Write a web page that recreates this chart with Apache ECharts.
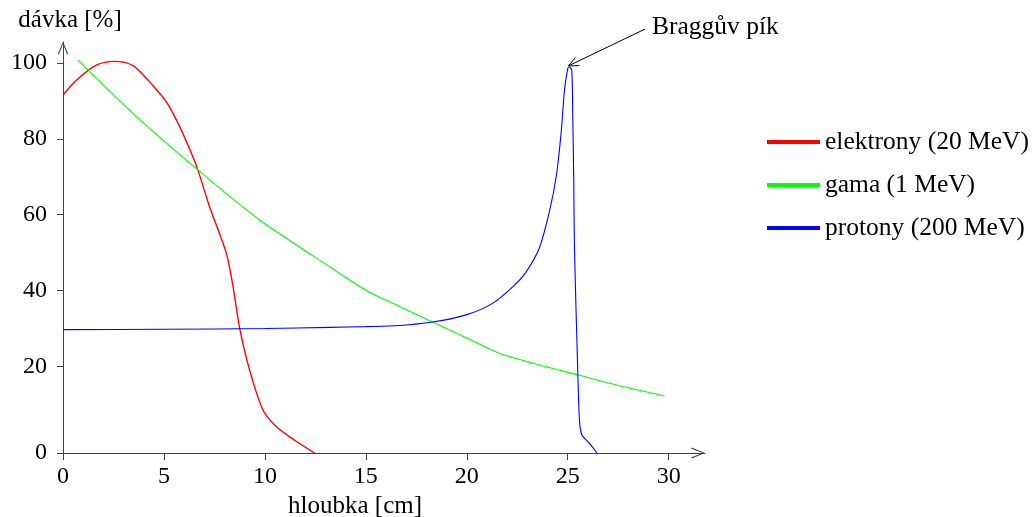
<!DOCTYPE html>
<html>
<head>
<meta charset="utf-8">
<script src="https://cdn.jsdelivr.net/npm/echarts@6/dist/echarts.min.js"></script>
<style>html,body{margin:0;padding:0;background:#fff}#c{width:1032px;height:517px}</style>
</head>
<body>
<div id="c"></div>
<script>
// ---- data (depth in cm, dose in %) ----
const seriesNames = ['elektrony (20 MeV)', 'gama (1 MeV)', 'protony (200 MeV)'];
const electronDepth = [0, 0.66, 1.65, 2.56, 3.47, 4.13, 4.29, 5.12, 5.78, 6.36, 6.68, 7.26, 8.09, 8.42, 8.75, 9.24, 9.90, 10.56, 11.55, 12.46];
const electronDose  = [91.5, 95.4, 99.4, 100.4, 99.3, 95.9, 95.0, 89.7, 83.2, 76.2, 71.8, 62.1, 49.8, 41.1, 30.1, 19.1, 8.6, 4.2, 0.3, -2.8];
const gammaDepth = [0.74, 3.5, 6.68, 9.74, 13.2, 15.0, 16.67, 18.3, 20.0, 21.6, 23.6, 25.5, 27.5, 29.8];
const gammaDose  = [100.7, 86.5, 71.8, 58.6, 46.3, 40.1, 35.8, 31.7, 27.5, 23.5, 20.4, 17.8, 15.0, 12.2];
const protonDepth = [0, 5, 10, 13.2, 15, 16.67, 18.3, 19.97, 21.3, 22.3, 22.9, 23.6, 24.1, 24.43, 24.67, 24.84, 25.0, 25.08, 25.2, 25.25, 25.3, 25.33, 25.5, 25.58, 25.7, 26.07, 26.45];
const protonDose  = [29.7, 29.8, 30.0, 30.3, 30.5, 30.8, 31.7, 33.6, 36.7, 41.1, 44.6, 51.3, 61.0, 70.0, 81.4, 92.8, 98.5, 98.9, 98.1, 85.8, 68.3, 52.0, 18.3, 6.0, 2.0, -0.2, -2.8];
const xTicks = [0, 5, 10, 15, 20, 25, 30];
const yTicks = [-2.8, 20, 40, 60, 80, 100];
const yTickLabels = ['0', '20', '40', '60', '80', '100'];
const xRange = [0, 31.8];
const yRange = [-2.8, 105.5];
const braggLabel = 'Braggův pík';
const braggTextAt = [28.83, 108.9];
const braggPeak = [25.03, 99.2];
const xName = 'hloubka [cm]';
const yName = 'dávka [%]';

const zip = (a, b) => a.map((v, i) => [v, b[i]]);
const FONT = 'Liberation Serif';
const chev = 'path://M5,0 L10,12 L9,12.6 L5,2.4 L1,12.6 L0,12 Z';

const chart = echarts.init(document.getElementById('c'), null, {renderer: 'canvas'});
chart.setOption({
  animation: false,
  backgroundColor: '#fff',
  textStyle: {fontFamily: FONT, color: '#000'},
  grid: {left: 63, right: 327, top: 42, bottom: 64, containLabel: false, outerBoundsMode: 'none'},
  legend: {
    left: 762, top: 124, orient: 'vertical', itemGap: 17,
    itemWidth: 53, itemHeight: 4, icon: 'rect',
    textStyle: {fontFamily: FONT, fontSize: 25.5, color: '#000'},
    data: seriesNames
  },
  xAxis: {
    type: 'value', min: xRange[0], max: xRange[1],
    name: xName, nameLocation: 'middle', nameGap: 36,
    nameTextStyle: {fontFamily: FONT, fontSize: 25, color: '#000', padding: [0, 58, 0, 0]},
    axisLine: {onZero: false, lineStyle: {color: '#444', width: 1},
      symbol: ['none', chev], symbolSize: [16, 14], symbolOffset: [0, -7]},
    axisTick: {show: true, length: 7, lineStyle: {color: '#444'}, customValues: xTicks},
    axisLabel: {fontFamily: FONT, fontSize: 24, color: '#000', margin: 12, customValues: xTicks},
    splitLine: {show: false}
  },
  yAxis: {
    type: 'value', min: yRange[0], max: yRange[1],
    name: yName, nameLocation: 'end', nameGap: 9,
    nameTextStyle: {fontFamily: FONT, fontSize: 25, color: '#000', padding: [0, 0, 0, 14]},
    axisLine: {onZero: false, lineStyle: {color: '#444', width: 1},
      symbol: ['none', chev], symbolSize: [11, 13], symbolOffset: [0, -6]},
    axisTick: {show: true, length: 6, lineStyle: {color: '#444'}, customValues: yTicks},
    axisLabel: {fontFamily: FONT, fontSize: 24, color: '#000', margin: 16, customValues: yTicks,
      formatter: v => yTickLabels[yTicks.indexOf(v)] ?? ''},
    splitLine: {show: false}
  },
  series: [
    {name: seriesNames[0], type: 'line', data: zip(electronDepth, electronDose), showSymbol: false,
     smooth: 0.3, lineStyle: {color: '#ff0000', width: 1.4}, itemStyle: {color: '#ff0000'}},
    {name: seriesNames[1], type: 'line', data: zip(gammaDepth, gammaDose), showSymbol: false,
     smooth: 0.2, lineStyle: {color: '#00ff00', width: 1.1}, itemStyle: {color: '#00ff00'}},
    {name: seriesNames[2], type: 'line', data: zip(protonDepth, protonDose), showSymbol: false,
     smooth: 0.25, lineStyle: {color: '#0000ff', width: 1.1}, itemStyle: {color: '#0000ff'}}
  ]
});

// Bragg peak annotation, placed through the chart's own coordinate conversion
const p0 = chart.convertToPixel({gridIndex: 0}, braggTextAt);
const p1 = chart.convertToPixel({gridIndex: 0}, braggPeak);
const ang = Math.atan2(p0[1] - p1[1], p0[0] - p1[0]);
const aL = 11, aW = 0.42;
const arm1 = [p1[0] + aL * Math.cos(ang + aW), p1[1] + aL * Math.sin(ang + aW)];
const arm2 = [p1[0] + aL * Math.cos(ang - aW), p1[1] + aL * Math.sin(ang - aW)];
chart.setOption({
  graphic: [
    {type: 'line', shape: {x1: p0[0], y1: p0[1], x2: p1[0], y2: p1[1]}, style: {stroke: '#000', lineWidth: 1}, silent: true},
    {type: 'polyline', shape: {points: [arm1, p1, arm2]}, style: {stroke: '#000', lineWidth: 1, fill: null}, silent: true},
    {type: 'text', x: p0[0] + 7, y: p0[1] - 2, silent: true,
     style: {text: braggLabel, font: '25.5px "Liberation Serif"', fill: '#000', textAlign: 'left', textVerticalAlign: 'middle'}}
  ]
});
</script>
</body>
</html>
